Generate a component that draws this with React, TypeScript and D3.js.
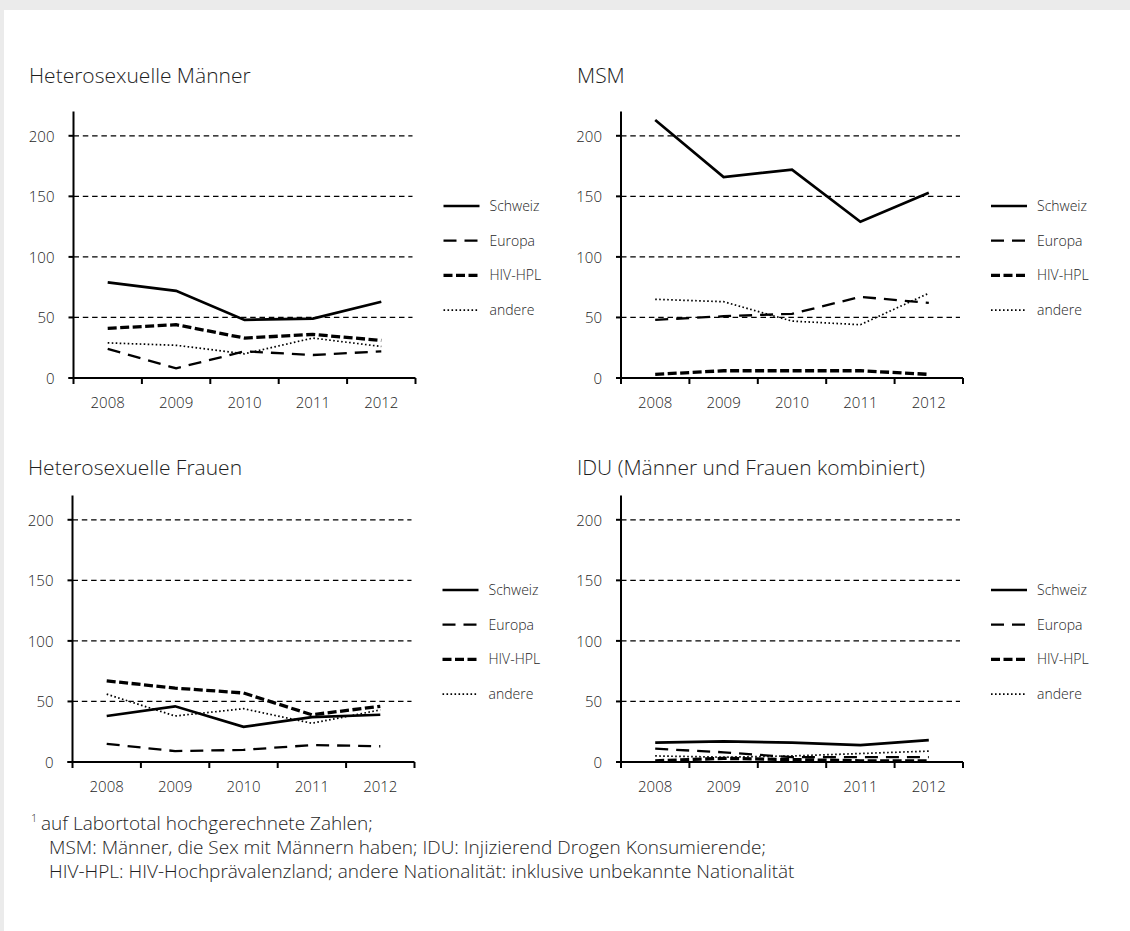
import React from "react";
import * as d3 from "d3";

const years = ["2008", "2009", "2010", "2011", "2012"];
const yTicks = [0, 50, 100, 150, 200];
const seriesNames = ["Schweiz", "Europa", "HIV-HPL", "andere"];
const panelTitles = [
  "Heterosexuelle Männer",
  "MSM",
  "Heterosexuelle Frauen",
  "IDU (Männer und Frauen kombiniert)",
];

const hetMaennerSchweiz = [79, 72, 48, 49, 63];
const hetMaennerEuropa = [24, 8, 22, 19, 22];
const hetMaennerHpl = [41, 44, 33, 36, 31];
const hetMaennerAndere = [29, 27, 20, 33, 26];

const msmSchweiz = [213, 166, 172, 129, 153];
const msmEuropa = [48, 51, 53, 67, 62];
const msmHpl = [3, 6, 6, 6, 3];
const msmAndere = [65, 63, 47, 44, 70];

const hetFrauenSchweiz = [38, 46, 29, 37, 39];
const hetFrauenEuropa = [15, 9, 10, 14, 13];
const hetFrauenHpl = [67, 61, 57, 39, 46];
const hetFrauenAndere = [56, 38, 44, 32, 43];

const iduSchweiz = [16, 17, 16, 14, 18];
const iduEuropa = [11, 8, 4, 4, 4];
const iduHpl = [1, 3, 2, 1, 1];
const iduAndere = [5, 4, 5, 7, 9];

const footnoteMark = "1";
const footnoteLines = [
  "auf Labortotal hochgerechnete Zahlen;",
  "MSM: Männer, die Sex mit Männern haben; IDU: Injizierend Drogen Konsumierende;",
  "HIV-HPL: HIV-Hochprävalenzland; andere Nationalität: inklusive unbekannte Nationalität",
];

const panelData = [
  [hetMaennerSchweiz, hetMaennerEuropa, hetMaennerHpl, hetMaennerAndere],
  [msmSchweiz, msmEuropa, msmHpl, msmAndere],
  [hetFrauenSchweiz, hetFrauenEuropa, hetFrauenHpl, hetFrauenAndere],
  [iduSchweiz, iduEuropa, iduHpl, iduAndere],
];

// layout / style (kept separate from data)
const panelLayout = [
  { ax: 73.5, y0: 378, tx: 29, ty: 83 },
  { ax: 621, y0: 378, tx: 577, ty: 83 },
  { ax: 72.5, y0: 762, tx: 28, ty: 475 },
  { ax: 621, y0: 762, tx: 577, ty: 475 },
];
const seriesStyle = [
  { w: 2.7, dash: undefined as string | undefined },
  { w: 2.3, dash: "13,8" },
  { w: 3.3, dash: "9,3.5" },
  { w: 1.7, dash: "1.6,2.4" },
];
const PLOT_W = 342;
const PX_PER_UNIT = 1.211;
const Y_MAX = 220;
const FONT = "'Open Sans', 'Liberation Sans', Arial, sans-serif";
const TEXT = "#1e1e1e";

function Panel({ idx }: { idx: number }) {
  const { ax, y0, tx, ty } = panelLayout[idx];
  const x = d3.scaleBand<string>().domain(years).range([ax, ax + PLOT_W]).padding(0);
  const y = d3.scaleLinear().domain([0, Y_MAX]).range([y0, y0 - Y_MAX * PX_PER_UNIT]);
  const line = d3
    .line<number>()
    .x((_, i) => (x(years[i]) as number) + x.bandwidth() / 2)
    .y((d) => y(d));
  const boundaries = d3.range(years.length + 1).map((i) => ax + i * x.step());
  const lx = ax + 370;
  return (
    <g>
      <text x={tx} y={ty} fontSize={21} fill={TEXT} fontFamily={FONT} fontWeight={300}>
        {panelTitles[idx]}
      </text>
      {yTicks
        .filter((t) => t > 0)
        .map((t) => (
          <line
            key={"g" + t}
            x1={ax}
            x2={ax + PLOT_W - 3}
            y1={y(t)}
            y2={y(t)}
            stroke="#000"
            strokeWidth={1.3}
            strokeDasharray="5.5,3.8"
          />
        ))}
      {panelData[idx].map((vals, s) => (
        <path
          key={"s" + s}
          d={line(vals) || ""}
          fill="none"
          stroke="#000"
          strokeWidth={seriesStyle[s].w}
          strokeDasharray={seriesStyle[s].dash}
          strokeLinejoin="miter"
        />
      ))}
      <line x1={ax} x2={ax} y1={y0} y2={y(Y_MAX)} stroke="#000" strokeWidth={2} />
      <line x1={ax - 5} x2={ax + PLOT_W} y1={y0} y2={y0} stroke="#000" strokeWidth={2} />
      {yTicks.map((t) => (
        <g key={"yt" + t}>
          <line x1={ax - 5} x2={ax} y1={y(t)} y2={y(t)} stroke="#000" strokeWidth={2} />
          <text
            x={ax - 19}
            y={y(t) + 6}
            textAnchor="end"
            fontSize={15}
            fill={TEXT}
            fontFamily={FONT}
            fontWeight={300}
          >
            {t}
          </text>
        </g>
      ))}
      {boundaries.map((bx, i) => (
        <line key={"xt" + i} x1={bx} x2={bx} y1={y0} y2={y0 + 6} stroke="#000" strokeWidth={2} />
      ))}
      {years.map((yr) => (
        <text
          key={"xl" + yr}
          x={(x(yr) as number) + x.bandwidth() / 2}
          y={y0 + 30}
          textAnchor="middle"
          fontSize={15}
          fill={TEXT}
          fontFamily={FONT}
          fontWeight={300}
        >
          {yr}
        </text>
      ))}
      {seriesNames.map((name, s) => {
        const ly = y0 - 172 + s * 34.7;
        return (
          <g key={"lg" + s}>
            <line
              x1={lx}
              x2={lx + 36}
              y1={ly}
              y2={ly}
              stroke="#000"
              strokeWidth={seriesStyle[s].w}
              strokeDasharray={seriesStyle[s].dash}
            />
            <text
              x={lx + 46}
              y={ly + 5}
              fontSize={14}
              fill={TEXT}
              fontFamily={FONT}
              fontWeight={300}
            >
              {name}
            </text>
          </g>
        );
      })}
    </g>
  );
}

export default function App() {
  return (
    <svg
      width={1130}
      height={931}
      style={{ position: "absolute", left: 0, top: 0, display: "block" }}
    >
      <rect x={0} y={0} width={1130} height={931} fill="#ebebeb" />
      <rect x={4} y={10} width={1126} height={921} fill="#ffffff" />
      {panelTitles.map((_, i) => (
        <Panel key={i} idx={i} />
      ))}
      <text x={31} y={822} fontSize={11} fill={TEXT} fontFamily={FONT} fontWeight={300}>
        {footnoteMark}
      </text>
      {footnoteLines.map((t, i) => (
        <text
          key={"fn" + i}
          x={i === 0 ? 41 : 49}
          y={830 + i * 24}
          fontSize={19}
          fill={TEXT}
          fontFamily={FONT}
          fontWeight={300}
        >
          {t}
        </text>
      ))}
    </svg>
  );
}
